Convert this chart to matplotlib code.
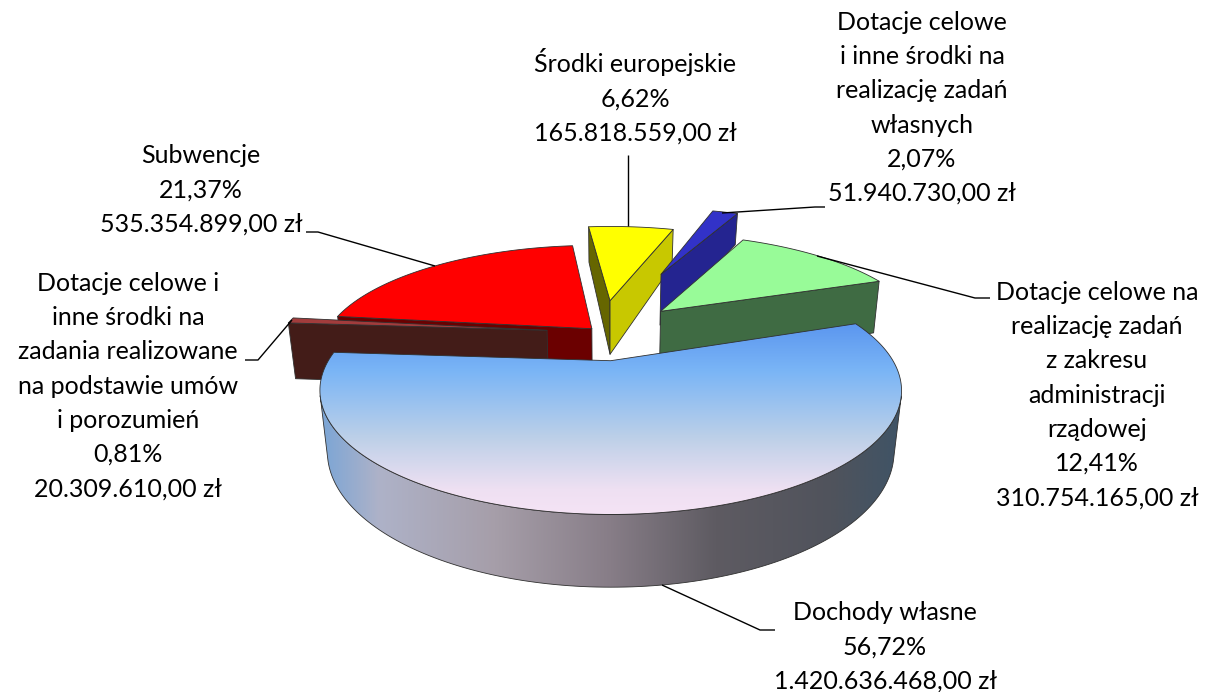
import numpy as np
import matplotlib
matplotlib.use('Agg')
import matplotlib.pyplot as plt
from matplotlib.colors import LinearSegmentedColormap
from matplotlib.patches import Polygon

# Data
names = [
    ['Dochody własne'],
    ['Dotacje celowe i', 'inne środki na', 'zadania realizowane', 'na podstawie umów', 'i porozumień'],
    ['Subwencje'],
    ['Środki europejskie'],
    ['Dotacje celowe', 'i inne środki na', 'realizację zadań', 'własnych'],
    ['Dotacje celowe na', 'realizację zadań', 'z zakresu', 'administracji', 'rządowej'],
]
shares = [56.72, 0.81, 21.37, 6.62, 2.07, 12.41]
percent_labels = ['56,72%', '0,81%', '21,37%', '6,62%', '2,07%', '12,41%']
amount_labels = ['1.420.636.468,00 zł', '20.309.610,00 zł', '535.354.899,00 zł',
                 '165.818.559,00 zł', '51.940.730,00 zł', '310.754.165,00 zł']

# Styles, same order as the data
explode = [0.26, 0.205, 0.05, 0.33, 0.69, 0.316]
top_colors = [None, '#a23c3c', '#ff0000', '#ffff00', '#3232c8', '#98fb98']
start_wall = [None, '#431c18', '#6b0000', '#666600', '#242490', '#3f6b43']
end_wall = [None, '#431c18', '#6b0000', '#c8c800', '#242490', '#3f6b43']
draw_order = [3, 4, 5, 2, 1, 0]

# Label layout: centre x, first baseline
label_pos = [(885, 620), (128, 291), (201, 163), (635, 72), (922, 30), (1097, 300)]
line_step = 34.2
leaders = [
    [(662, 585), (760, 630), (775, 630)],
    [(245, 360), (258, 360), (292, 320)],
    [(306, 232), (318, 232), (435, 266)],
    [(628, 155), (628, 226)],
    [(825, 207), (815, 207), (722, 213)],
    [(817, 256), (975, 298), (990, 298)],
]

# Perspective camera
cx, cy = 609, 361
A, B, H = 282.5, 117, 61
k, m = 0.24, 0.025
far_v, far_taper = 0.9, 0.35  # walls get shorter at the very back
centre = (-0.03, 0.26)
start_angle = 20


def project(u, v, z):
    u, v = np.asarray(u, float), np.asarray(v, float)
    w = 1 + k * v + m * z
    drop = H * z * (1 - far_taper * np.maximum(v - far_v, 0))
    return np.column_stack([cx + A * u / w, cy - (B * v - drop) / w])


def area(p):
    x, y = p[:, 0], p[:, 1]
    return np.sum(x * np.roll(y, -1) - np.roll(x, -1) * y) / 2


plt.rcParams['font.family'] = ['Lato', 'DejaVu Sans']
fig = plt.figure(figsize=(12.1, 6.92), dpi=100)
ax = fig.add_axes([0, 0, 1, 1])
ax.set_xlim(0, 1210)
ax.set_ylim(692, 0)
ax.axis('off')

edge = dict(edgecolor='#303030', linewidth=0.6, joinstyle='round')
layer = [2]


def next_z():
    layer[0] += 1
    return layer[0]


def gradient_fill(poly, stops, vertical):
    patch = Polygon(poly, closed=True, facecolor='none', zorder=next_z(), **edge)
    cmap = LinearSegmentedColormap.from_list('g', stops)
    x0, y0 = poly.min(axis=0)
    x1, y1 = poly.max(axis=0)
    g = np.linspace(0, 1, 256)
    g = g[:, None] if vertical else g[None, :]
    im = ax.imshow(g, cmap=cmap, extent=(x0, x1, y1, y0), aspect='auto', zorder=patch.get_zorder() - 0.5)
    ax.add_patch(patch)
    im.set_clip_path(patch)


top_stops = [(0, '#5b96ef'), (0.25, '#7ab5f6'), (0.6, '#bdd0e8'), (0.87, '#eee0f2'), (1, '#f5e3f5')]
side_stops = [(0, '#7aa5d6'), (0.1, '#aeb2c8'), (0.3, '#a69ea9'), (0.5, '#877d87'),
              (0.68, '#5e5b62'), (0.88, '#50535c'), (1, '#3f5366')]

# Slices go clockwise from the start angle
ends = start_angle - np.cumsum(shares) * 3.6
starts = np.r_[start_angle, ends[:-1]]

for i in draw_order:
    mid = np.radians((starts[i] + ends[i]) / 2)
    u0 = centre[0] + explode[i] * np.cos(mid)
    v0 = centre[1] + explode[i] * np.sin(mid)
    t = np.radians(np.linspace(starts[i], ends[i], 181))
    u, v = u0 + np.cos(t), v0 + np.sin(t)
    rim_top, rim_bot = project(u, v, 0), project(u, v, 1)
    apex_top, apex_bot = project([u0], [v0], 0), project([u0], [v0], 1)

    # start wall and end wall of the slice, only if they face the camera
    q = np.vstack([rim_top[0], apex_top, apex_bot, rim_bot[0]])
    if i > 0 and area(q) > 0:
        ax.add_patch(Polygon(q, facecolor=start_wall[i], zorder=next_z(), **edge))
    q = np.vstack([apex_top, rim_top[-1], rim_bot[-1], apex_bot])
    if i > 0 and area(q) > 0:
        ax.add_patch(Polygon(q, facecolor=end_wall[i], zorder=next_z(), **edge))

    # outer wall
    facing = [area(np.vstack([rim_top[j + 1], rim_top[j], rim_bot[j], rim_bot[j + 1]])) > 0
              for j in range(len(t) - 1)]
    idx = np.flatnonzero(facing)
    if len(idx):
        a, b = idx[0], idx[-1] + 2
        q = np.vstack([rim_top[a:b], rim_bot[a:b][::-1]])
        if i == 0:
            gradient_fill(q, side_stops, False)
        else:
            ax.add_patch(Polygon(q, facecolor=start_wall[i], zorder=next_z(), **edge))

    # top face
    q = np.vstack([apex_top, rim_top])
    if i == 0:
        gradient_fill(q, top_stops, True)
    else:
        ax.add_patch(Polygon(q, facecolor=top_colors[i], zorder=next_z(), **edge))

for pts in leaders:
    xs, ys = zip(*pts)
    ax.plot(xs, ys, color='black', lw=1.0, zorder=100, solid_capstyle='butt')

for i, lines in enumerate(names):
    x, y = label_pos[i]
    for n, line in enumerate(lines + [percent_labels[i], amount_labels[i]]):
        ax.text(x, y + n * line_step, line, ha='center', va='baseline', fontsize=18,
                color='black', zorder=101)

fig.savefig('out.png', dpi=100)
